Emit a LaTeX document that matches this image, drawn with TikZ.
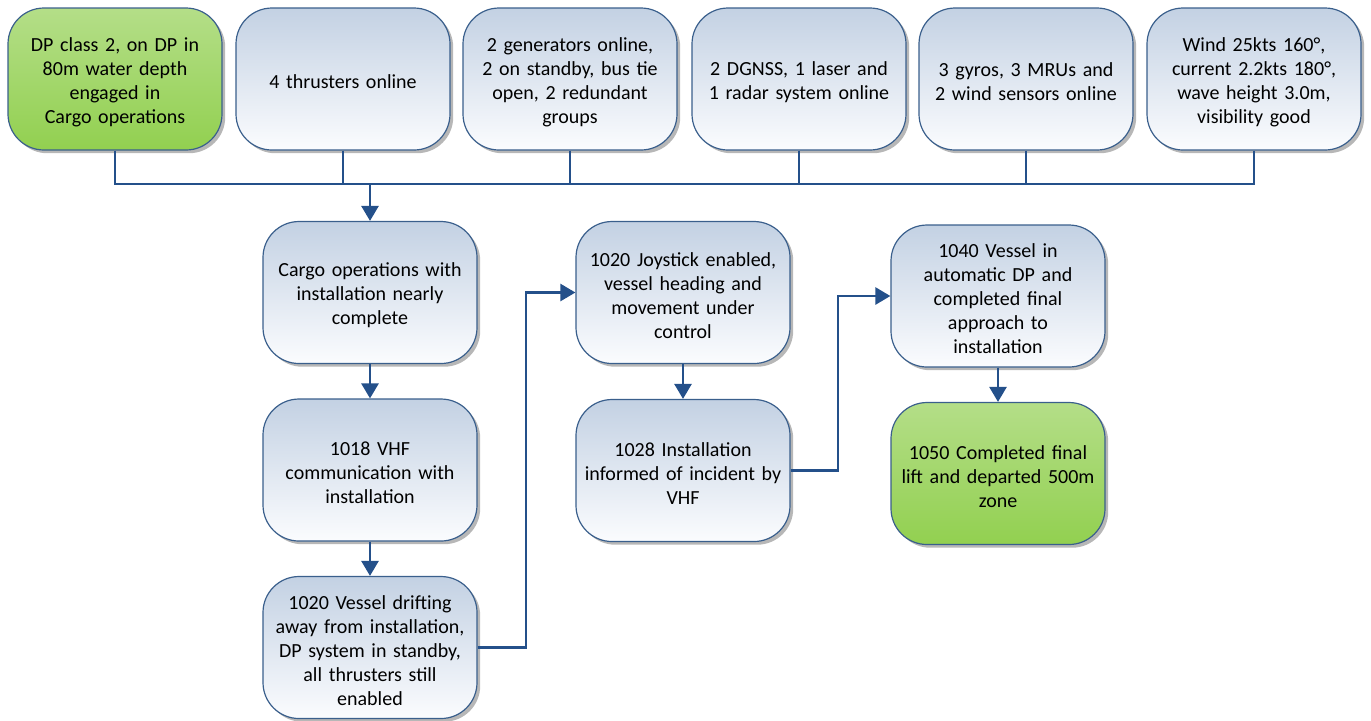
\documentclass[tikz,border=0pt]{standalone}
\usepackage{fontspec}
\setmainfont{Carlito}
\usetikzlibrary{shadows,arrows.meta}
\definecolor{bordercol}{HTML}{3A5F8C}
\definecolor{linecol}{HTML}{24508A}
\definecolor{topblue}{HTML}{C3D1E3}
\definecolor{botblue}{HTML}{FBFCFE}
\definecolor{topgreen}{HTML}{B4DE88}
\definecolor{botgreen}{HTML}{92D050}
\tikzset{
  box/.style={draw=bordercol, line width=0.6pt, rounded corners=18pt,
    minimum width=107pt, minimum height=71pt, inner sep=0pt,
    top color=topblue, bottom color=botblue,
    drop shadow={shadow xshift=1.6pt, shadow yshift=-1.6pt, fill=black!40, opacity=0.7}},
  greenbox/.style={box, top color=topgreen, bottom color=botgreen},
  boxtext/.style={align=center, text width=100pt, inner sep=0pt,
    font=\fontsize{10}{12}\selectfont},
  conn/.style={draw=linecol, line width=1.3pt},
  arr/.style={conn, -{Triangle[length=7.5pt,width=8.5pt]}}
}
% #1 style, #2 name, #3 position, #4 text
\newcommand\mkbox[4]{%
  \node[#1] (#2) at #3 {};
  \node[boxtext] (#2-t) at ([yshift=-1.5pt]#2.center) {#4};
}
\begin{document}
\begin{tikzpicture}[x=0.5pt,y=-0.5pt]
\useasboundingbox (0,0) rectangle (1371,720);
% top row
\mkbox{greenbox}{t1}{(115,79)}{DP class 2, on DP in\\80m water depth\\engaged in\\Cargo operations}
\mkbox{box}{t2}{(343,79)}{4 thrusters online}
\mkbox{box}{t3}{(570,79)}{2 generators online,\\2 on standby, bus tie\\open, 2 redundant\\groups}
\mkbox{box}{t4}{(799,79)}{2 DGNSS, 1 laser and\\1 radar system online}
\mkbox{box}{t5}{(1026,79)}{3 gyros, 3 MRUs and\\2 wind sensors online}
\mkbox{box}{t6}{(1254,79)}{Wind 25kts 160°,\\current 2.2kts 180°,\\wave height 3.0m,\\visibility good}
% column 1
\mkbox{box}{c1}{(370,292.5)}{Cargo operations with\\installation nearly\\complete}
\mkbox{box}{c2}{(370,470)}{1018 VHF\\communication with\\installation}
\mkbox{box}{c3}{(370,647.5)}{1020 Vessel drifting\\away from installation,\\DP system in standby,\\all thrusters still\\enabled}
% column 2
\mkbox{box}{d1}{(683,292.5)}{1020 Joystick enabled,\\vessel heading and\\movement under\\control}
\mkbox{box}{d2}{(683,470.5)}{1028 Installation\\informed of incident by\\VHF}
% column 3
\mkbox{box}{e1}{(998,296)}{1040 Vessel in\\automatic DP and\\completed final\\approach to\\installation}
\mkbox{greenbox}{e2}{(998,473.5)}{1050 Completed final\\lift and departed 500m\\zone}
% bus
\coordinate (bus) at (370,184);
\draw[conn] (t1.south) |- (bus);
\draw[conn] (t6.south) |- (bus);
\draw[conn] (t2.south) -- (t2.south |- bus);
\draw[conn] (t3.south) -- (t3.south |- bus);
\draw[conn] (t4.south) -- (t4.south |- bus);
\draw[conn] (t5.south) -- (t5.south |- bus);
\draw[arr] (bus) -- (c1.north);
\draw[arr] (c1.south) -- (c2.north);
\draw[arr] (c2.south) -- (c3.north);
\coordinate (k1) at (526,647.5);
\draw[arr] (c3.east) -- (k1) |- (d1.west);
\draw[arr] (d1.south) -- (d2.north);
\coordinate (k2) at (838,470.5);
\draw[arr] (d2.east) -- (k2) |- (e1.west);
\draw[arr] (e1.south) -- (e2.north);
\end{tikzpicture}
\end{document}
